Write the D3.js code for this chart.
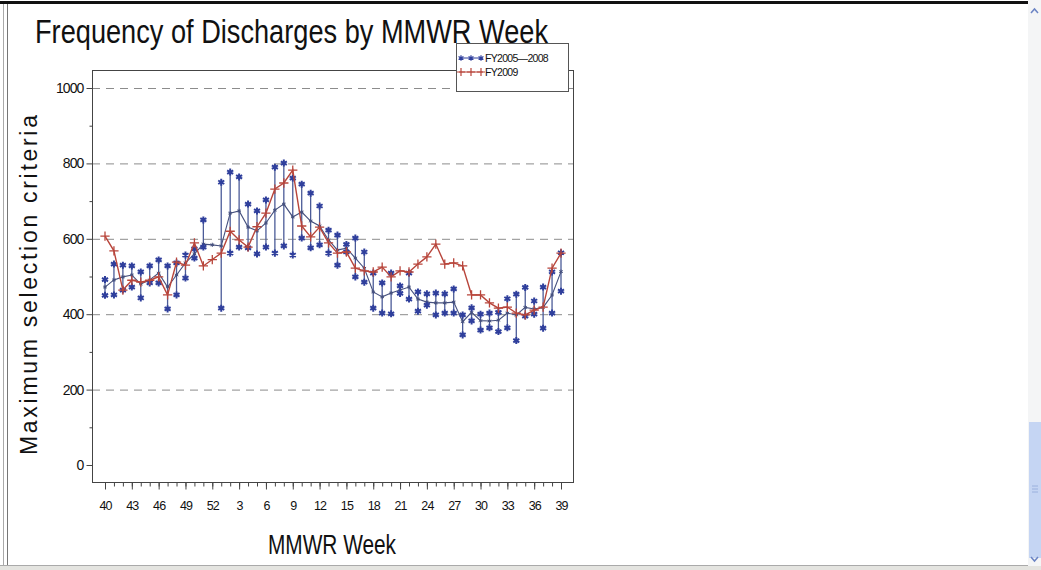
<!DOCTYPE html>
<html><head><meta charset="utf-8">
<script src="https://cdn.jsdelivr.net/npm/d3@7"></script>
<style>
html,body{margin:0;padding:0;background:#fff;}
svg{display:block;font-family:"Liberation Sans Narrow","Liberation Sans",Arial,sans-serif;}
</style></head><body>
<svg id="c" width="1041" height="570"></svg>
<script>
// ---- data ----
const weeks = [40,41,42,43,44,45,46,47,48,49,50,51,52,1,2,3,4,5,6,7,8,9,10,11,12,13,14,15,16,17,18,19,20,21,22,23,24,25,26,27,28,29,30,31,32,33,34,35,36,37,38,39];
const tickLabels = ["40","43","46","49","52","3","6","9","12","15","18","21","24","27","30","33","36","39"];
const yTicks = [0,200,400,600,800,1000];
const yGrid = [200,400,600,800,1000];
const yMinor = [100,300,500,700,900];
const fy2009 = [607,568,464,490,485,490,499,451,538,530,589,528,545,562,620,597,578,632,668,732,748,782,634,605,631,589,562,565,522,515,512,525,499,515,512,533,552,586,533,536,528,451,451,430,416,419,403,398,411,419,522,562];
const histMean = [472,491,499,504,480,491,509,472,504,536,560,586,584,581,668,674,631,621,642,676,692,658,671,647,634,597,570,575,549,522,459,446,456,464,472,440,432,430,430,432,380,405,383,382,384,403,398,418,414,418,451,513];
const histMax = [492,533,530,528,512,528,544,528,536,557,573,650,null,750,777,764,692,674,703,790,801,761,745,721,687,623,610,585,602,565,509,483,509,475,509,459,454,456,454,467,398,417,400,403,405,441,453,471,435,472,512,563];
const histMin = [450,451,464,472,443,483,483,414,451,496,549,578,null,416,562,578,576,560,578,562,581,557,602,576,584,562,530,565,499,485,416,403,401,455,440,408,424,398,403,403,345,382,358,364,354,364,330,395,400,363,403,461];
const legendLabels = ["FY2005\u20142008","FY2009"];

// ---- drawing ----
const svg = d3.select("#c");
const L = 92, R = 573, T = 70, B = 482;
const idx = d3.range(weeks.length);
const x = d3.scaleLinear().domain([0, weeks.length - 1]).range([105, 561]);
const y = d3.scaleLinear().domain([0, 1000]).range([465, 88]);

const blue = "#2f3f9c", barCol = "#4b5b98", meanCol = "#45507e", red = "#b8453b";

// window chrome
svg.append("rect").attr("x",0).attr("y",0).attr("width",1041).attr("height",570).attr("fill","#fff");
svg.append("line").attr("x1",0).attr("x2",1030).attr("y1",2.5).attr("y2",2.5).attr("stroke","#111").attr("stroke-width",3);
svg.append("line").attr("x1",7.5).attr("x2",7.5).attr("y1",4).attr("y2",566).attr("stroke","#777").attr("stroke-width",1);
svg.append("line").attr("x1",3.5).attr("x2",3.5).attr("y1",4).attr("y2",566).attr("stroke","#aaa").attr("stroke-width",1);
svg.append("rect").attr("x",0).attr("y",565).attr("width",1041).attr("height",5).attr("fill","#e4e4e0");
svg.append("line").attr("x1",0).attr("x2",1041).attr("y1",565.5).attr("y2",565.5).attr("stroke","#aaa");
// scrollbar
svg.append("rect").attr("x",1028).attr("y",0).attr("width",13).attr("height",566).attr("fill","#f4f5f6");
svg.append("rect").attr("x",1029).attr("y",422).attr("width",12).attr("height",136).attr("fill","#c5d5f3");
svg.append("path").attr("d","M1031,13 L1034.5,9 L1038,13").attr("fill","none").attr("stroke","#6b84c4").attr("stroke-width",1.5);
svg.append("path").attr("d","M1031,557 L1034.5,561 L1038,557").attr("fill","none").attr("stroke","#6b84c4").attr("stroke-width",1.5);
svg.append("path").attr("d","M1032,486H1038M1032,489H1038M1032,492H1038").attr("stroke","#9ab0dd");

// gridlines
svg.append("g").selectAll("line").data(yGrid).join("line")
  .attr("x1",L).attr("x2",R).attr("y1",d=>y(d)+0.5).attr("y2",d=>y(d)+0.5)
  .attr("stroke","#8c8c8c").attr("stroke-dasharray","8,6");

// frame
svg.append("rect").attr("x",L+0.5).attr("y",T+0.5).attr("width",R-L).attr("height",B-T)
  .attr("fill","none").attr("stroke","#444");

// y axis
const yAx = svg.append("g").attr("transform",`translate(${L+0.5},0)`)
  .call(d3.axisLeft(y).tickValues(yTicks).tickSize(6).tickPadding(3).tickFormat(d3.format("d")));
svg.append("g").attr("transform",`translate(${L+0.5},0)`)
  .call(d3.axisLeft(y).tickValues(yMinor).tickSize(3).tickFormat(""))
  .call(g=>g.select(".domain").remove());
yAx.select(".domain").remove();
svg.selectAll(".tick line").attr("stroke","#444");
yAx.selectAll("text").attr("font-size",14).attr("letter-spacing","-0.9px").attr("fill","#111");

// x axis
svg.append("g").attr("transform",`translate(0,${B+0.5})`)
  .call(d3.axisBottom(x).tickValues(idx).tickSize(4).tickFormat(""))
  .call(g=>g.select(".domain").remove())
  .selectAll("line").attr("stroke","#444");
const majorIdx = idx.filter(i => tickLabels.includes(String(weeks[i])) && (i % 3 === 0));
const xAx = svg.append("g").attr("transform",`translate(0,${B+0.5})`)
  .call(d3.axisBottom(x).tickValues(majorIdx).tickSize(7).tickPadding(12)
    .tickFormat(i => tickLabels[majorIdx.indexOf(i)]));
xAx.select(".domain").remove();
xAx.selectAll("line").attr("stroke","#444");
xAx.selectAll("text").attr("font-size",12.5).attr("letter-spacing","-0.9px").attr("fill","#111");

// error bars (historical min-max)
const barIdx = idx.filter(i => histMax[i] != null);
svg.append("g").selectAll("line").data(barIdx).join("line")
  .attr("x1",i=>x(i)).attr("x2",i=>x(i)).attr("y1",i=>y(histMax[i])).attr("y2",i=>y(histMin[i]))
  .attr("stroke",barCol).attr("stroke-width",1.3);

const star = d3.symbol().type(d3.symbolAsterisk).size(34);
const starSmall = d3.symbol().type(d3.symbolAsterisk).size(12);
const plus = d3.symbol().type(d3.symbolPlus).size(30);

// historical mean line
const line = d3.line().x(i=>x(i));
svg.append("path").datum(idx).attr("fill","none").attr("stroke",meanCol).attr("stroke-width",1.1)
  .attr("d", line.y(i=>y(histMean[i])));
svg.append("g").selectAll("path").data(idx).join("path")
  .attr("transform",i=>`translate(${x(i)},${y(histMean[i])})`).attr("d",starSmall)
  .attr("fill","none").attr("stroke",meanCol).attr("stroke-width",1);

// min/max markers
const ends = [];
barIdx.forEach(i => { ends.push([i, histMax[i]]); ends.push([i, histMin[i]]); });
svg.append("g").selectAll("path").data(ends).join("path")
  .attr("transform",d=>`translate(${x(d[0])},${y(d[1])})`).attr("d",star)
  .attr("fill","none").attr("stroke",blue).attr("stroke-width",2);

// FY2009 line
svg.append("path").datum(idx).attr("fill","none").attr("stroke",red).attr("stroke-width",1.4)
  .attr("d", d3.line().x(i=>x(i)).y(i=>y(fy2009[i])));
svg.append("g").selectAll("path").data(idx).join("path")
  .attr("transform",i=>`translate(${x(i)},${y(fy2009[i])})`).attr("d",plus)
  .attr("fill","none").attr("stroke",red).attr("stroke-width",1.3);

// title
svg.append("text").attr("x",35).attr("y",43).attr("font-size",33).attr("fill","#111")
  .attr("textLength",513).attr("lengthAdjust","spacingAndGlyphs")
  .text("Frequency of Discharges by MMWR Week");

// x title
svg.append("text").attr("x",268).attr("y",554).attr("font-size",27).attr("fill","#111")
  .attr("textLength",128).attr("lengthAdjust","spacingAndGlyphs").text("MMWR Week");

// y title
svg.append("text").attr("transform","translate(37,455) rotate(-90)").attr("font-size",23)
  .attr("font-family","'Liberation Sans',Arial,sans-serif").attr("fill","#111")
  .attr("textLength",340).attr("lengthAdjust","spacing").text("Maximum selection criteria");

// legend
const lg = svg.append("g");
lg.append("rect").attr("x",456.5).attr("y",43.5).attr("width",112).attr("height",48)
  .attr("fill","#fff").attr("stroke","#555");
const lcols = [blue, red], lsyms = [d3.symbol().type(d3.symbolAsterisk).size(22), d3.symbol().type(d3.symbolPlus).size(24)];
legendLabels.forEach((t,k) => {
  const yy = 58 + k*14;
  lg.append("line").attr("x1",459).attr("x2",483).attr("y1",yy).attr("y2",yy).attr("stroke",lcols[k]).attr("stroke-width",1);
  [461,471,481].forEach(xx => lg.append("path").attr("transform",`translate(${xx},${yy})`).attr("d",lsyms[k])
    .attr("fill","none").attr("stroke",lcols[k]).attr("stroke-width",1.2));
  lg.append("text").attr("x",485).attr("y",yy+3.5).attr("font-size",10.5).attr("letter-spacing","-0.7px")
    .attr("fill","#111").text(t);
});
</script></body></html>
